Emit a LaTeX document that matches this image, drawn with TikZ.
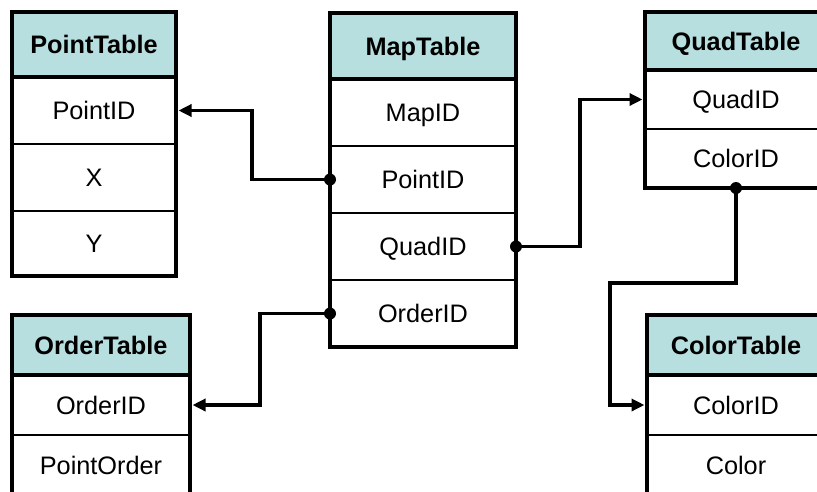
\documentclass[tikz,border=0pt]{standalone}
\usepackage{fontspec}
\setmainfont{Liberation Sans}
\usetikzlibrary{arrows.meta}
\definecolor{hdrfill}{RGB}{184,223,224}
\begin{document}
\begin{tikzpicture}[x=1pt,y=-1pt,
  cell/.style={draw=black, line width=2pt, inner sep=0pt, outer sep=0pt, anchor=north west,
               text height=18.1pt, text depth=0pt,
               font=\fontsize{25.3}{29}\selectfont},
  hdr/.style={cell, fill=hdrfill, font=\fontsize{25.3}{29}\selectfont\bfseries},
  frame/.style={draw=black, line width=4.6pt},
  conn/.style={draw=black, line width=3.8pt, line join=miter, -{Triangle[length=13pt,width=12pt]}},
  dot/.style={fill=black}]
\useasboundingbox (0,0) rectangle (817,491);
\fill[white] (0,0) rectangle (817,491);
\begin{scope}
\clip (0,0) rectangle (817,491);
% PointTable
\node[hdr, minimum width=164pt, minimum height=65pt] (pth) at (12,12) {PointTable};
\node[cell, minimum width=164pt, minimum height=67pt] (pt1) at (12,77) {PointID};
\node[cell, minimum width=164pt, minimum height=67pt] (pt2) at (12,144) {X};
\node[cell, minimum width=164pt, minimum height=65pt] (pt3) at (12,211) {Y};
\draw[frame] (pth.north west) rectangle (pt3.south east);
\draw[frame] (pth.south west) -- (pth.south east);
% MapTable
\node[hdr, minimum width=186pt, minimum height=66pt] (mph) at (330,13) {MapTable};
\node[cell, minimum width=186pt, minimum height=67pt] (mp1) at (330,79) {MapID};
\node[cell, minimum width=186pt, minimum height=67pt] (mp2) at (330,146) {PointID};
\node[cell, minimum width=186pt, minimum height=67pt] (mp3) at (330,213) {QuadID};
\node[cell, minimum width=186pt, minimum height=67pt] (mp4) at (330,280) {OrderID};
\draw[frame] (mph.north west) rectangle (mp4.south east);
\draw[frame] (mph.south west) -- (mph.south east);
% QuadTable
\node[hdr, minimum width=182pt, minimum height=58pt] (qh) at (645,12) {QuadTable};
\node[cell, minimum width=182pt, minimum height=59pt] (q1) at (645,70) {QuadID};
\node[cell, minimum width=182pt, minimum height=59pt] (q2) at (645,129) {ColorID};
\draw[frame] (qh.north west) rectangle (q2.south east);
\draw[frame] (qh.south west) -- (qh.south east);
% OrderTable
\node[hdr, minimum width=178pt, minimum height=60pt] (oh) at (12,315) {OrderTable};
\node[cell, minimum width=178pt, minimum height=60pt] (o1) at (12,375) {OrderID};
\node[cell, minimum width=178pt, minimum height=60pt] (o2) at (12,435) {PointOrder};
\draw[frame] (oh.north west) rectangle (o2.south east);
\draw[frame] (oh.south west) -- (oh.south east);
% ColorTable
\node[hdr, minimum width=178pt, minimum height=60pt] (ch) at (647,315) {ColorTable};
\node[cell, minimum width=178pt, minimum height=60pt] (c1) at (647,375) {ColorID};
\node[cell, minimum width=178pt, minimum height=60pt] (c2) at (647,435) {Color};
\draw[frame] (ch.north west) rectangle (c2.south east);
\draw[frame] (ch.south west) -- (ch.south east);
% connectors
\coordinate (k1) at (252,0);
\coordinate (k2) at (260,0);
\coordinate (k3) at (580,0);
\coordinate (k4) at (610,283);
\draw[conn] (mp2.west) -- (mp2.west -| k1) |- ([xshift=2.5pt]pt1.east);
\draw[conn] (mp4.west) -- (mp4.west -| k2) |- ([xshift=2.5pt]o1.east);
\draw[conn] (mp3.east) -- (mp3.east -| k3) |- ([xshift=-2.5pt]q1.west);
\draw[conn] (q2.south) |- (k4) |- ([xshift=-2.5pt]c1.west);
\fill[dot] (mp2.west) circle (6pt);
\fill[dot] (mp4.west) circle (6pt);
\fill[dot] (mp3.east) circle (6pt);
\fill[dot] (q2.south) circle (6pt);
\end{scope}
\end{tikzpicture}
\end{document}
